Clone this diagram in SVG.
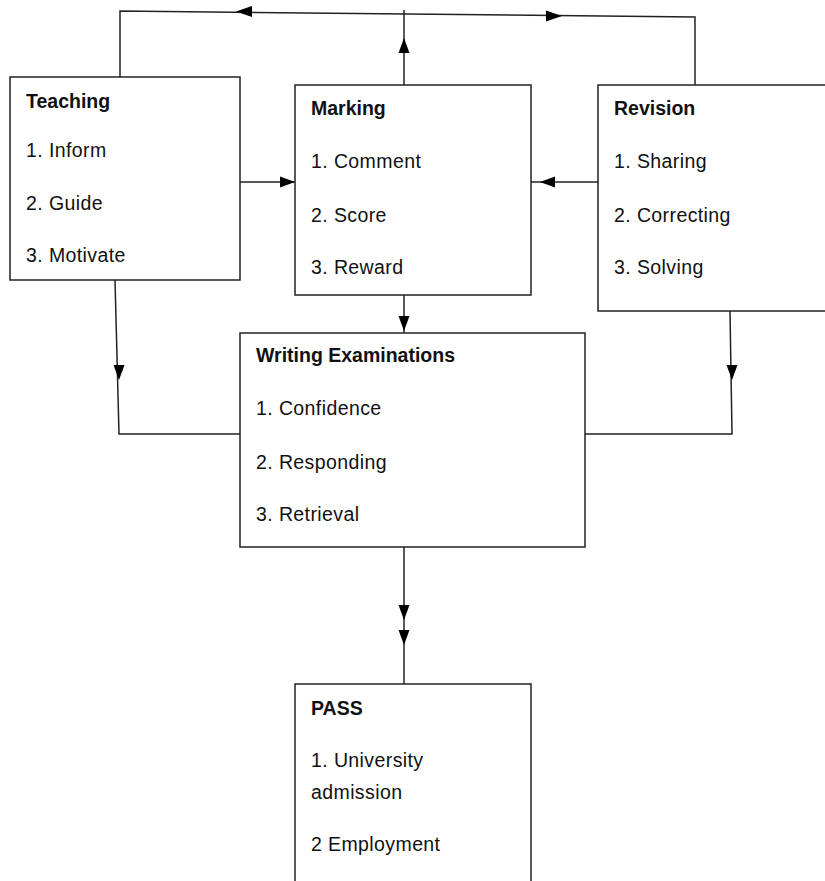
<svg xmlns="http://www.w3.org/2000/svg" width="825" height="881" viewBox="0 0 825 881">
<style>
.box{fill:#fff;stroke:#222;stroke-width:1.5}
.ln{fill:none;stroke:#222;stroke-width:1.5}
.ah{fill:#000}
text{font-family:"Liberation Sans",Arial,sans-serif;font-size:19.5px;letter-spacing:0.4px;fill:#111}
.t{font-weight:bold;letter-spacing:0}
</style>
<rect width="825" height="881" fill="#fff"/>
<g id="connectors">
<polyline class="ln" points="120,77 120,11 695,17 695,85"/>
<line class="ln" x1="404" y1="85" x2="404" y2="10"/>
<line class="ln" x1="240" y1="182" x2="295" y2="182"/>
<line class="ln" x1="598" y1="182" x2="531" y2="182"/>
<line class="ln" x1="404" y1="295" x2="404" y2="333"/>
<polyline class="ln" points="115,280 119,434 240,434"/>
<polyline class="ln" points="730,311 732,434 585,434"/>
<line class="ln" x1="404" y1="547" x2="404" y2="684"/>
<polygon class="ah" points="236,11.5 252,6 252,17"/>
<polygon class="ah" points="562,16 546,10.5 546,21.5"/>
<polygon class="ah" points="404,38 398.5,53 409.5,53"/>
<polygon class="ah" points="295,182 280,176.5 280,187.5"/>
<polygon class="ah" points="540,182 555,176.5 555,187.5"/>
<polygon class="ah" points="404,331 398.5,316 409.5,316"/>
<polygon class="ah" points="119,380 113.5,365 124.5,365"/>
<polygon class="ah" points="732,380 726.5,365 737.5,365"/>
<polygon class="ah" points="404,620 398.5,605 409.5,605"/>
<polygon class="ah" points="404,645 398.5,630 409.5,630"/>
</g>
<g id="teaching">
<rect class="box" x="10" y="77" width="230" height="203"/>
<text class="t" x="26" y="108">Teaching</text>
<text x="26" y="157">1. Inform</text>
<text x="26" y="210">2. Guide</text>
<text x="26" y="262">3. Motivate</text>
</g>
<g id="marking">
<rect class="box" x="295" y="85" width="236" height="210"/>
<text class="t" x="311" y="115">Marking</text>
<text x="311" y="168">1. Comment</text>
<text x="311" y="222">2. Score</text>
<text x="311" y="274">3. Reward</text>
</g>
<g id="revision">
<rect class="box" x="598" y="85" width="240" height="226"/>
<text class="t" x="614" y="115">Revision</text>
<text x="614" y="168">1. Sharing</text>
<text x="614" y="222">2. Correcting</text>
<text x="614" y="274">3. Solving</text>
</g>
<g id="writing-examinations">
<rect class="box" x="240" y="333" width="345" height="214"/>
<text class="t" x="256" y="362">Writing Examinations</text>
<text x="256" y="415">1. Confidence</text>
<text x="256" y="469">2. Responding</text>
<text x="256" y="521">3. Retrieval</text>
</g>
<g id="pass">
<rect class="box" x="295" y="684" width="236" height="210"/>
<text class="t" x="311" y="715">PASS</text>
<text x="311" y="767">1. University</text>
<text x="311" y="799">admission</text>
<text x="311" y="851">2 Employment</text>
</g>
</svg>
